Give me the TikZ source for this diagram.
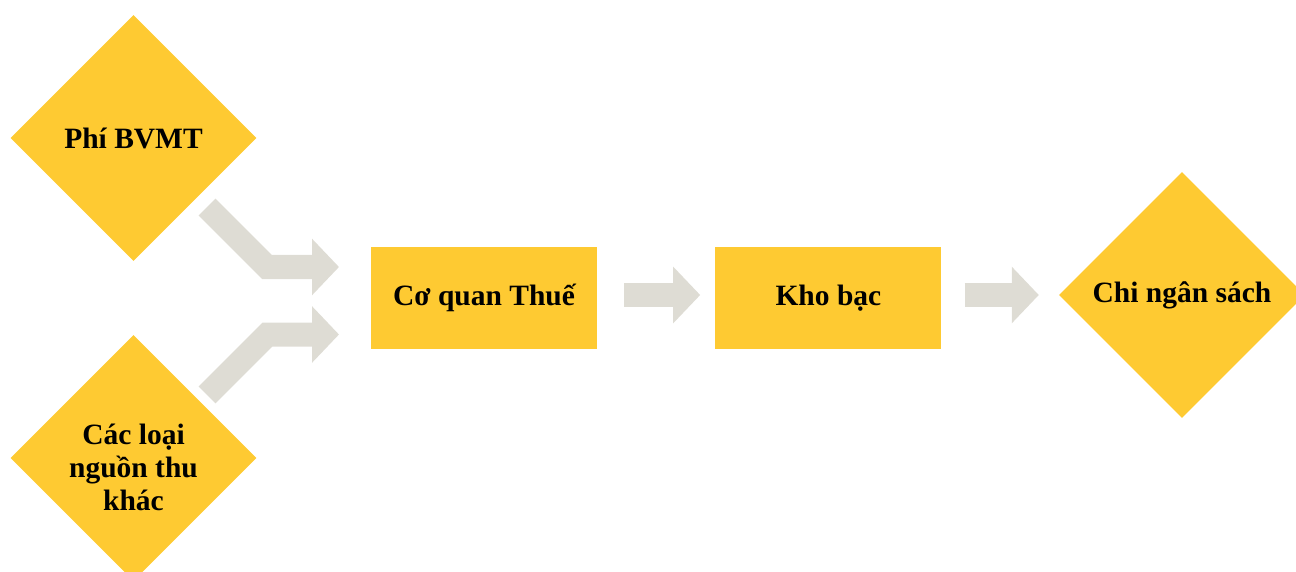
\documentclass[tikz,border=0pt]{standalone}
\usepackage{fontspec}
\setmainfont{Liberation Serif}
\usetikzlibrary{shapes.geometric}
\usetikzlibrary{positioning}
\usetikzlibrary{arrows.meta}
\definecolor{gold}{RGB}{254,202,50}
\definecolor{ash}{RGB}{222,220,212}
\tikzset{x=1pt, y=-1pt,
    every node/.style={
        font=\fontsize{29.5}{33}\selectfont\bfseries,
        align=center,
        inner sep=0pt},
    gem/.style={
        diamond,
        aspect=1,
        fill=gold,
        minimum width=246pt,
        minimum height=246pt},
    box/.style={
        rectangle,
        fill=gold,
        minimum width=226pt,
        minimum height=102pt},
    flow/.style={
        draw=ash,
        line width=24pt,
        line join=miter,
        -{Triangle[length=27pt,width=55pt]}}}

\begin{document}
\begin{tikzpicture}
        \useasboundingbox (0,0) rectangle (1296,572);
        \clip (0,0) rectangle (1296,572);

        \node[gem] (phi) at (133.5,138) {Phí BVMT};
        \node[gem] (other) at (133.5,458) {\raisebox{-19pt}[0pt][0pt]{\begin{tabular}{@{}c@{}}Các loại\\nguồn thu\\khác\end{tabular}}};
        \node[box] (thue) at (484,298) {Cơ quan Thuế};
        \node[box,right=118pt of thue] (khobac) {Kho bạc};
        \node[gem] (chi) at (1182,295) {Chi ngân sách};

        % bent arrows into the tax office
        \coordinate (phi out) at (207,207);
        \coordinate (phi bend) at (267,267);
        \coordinate (phi in) at (339,267);
        \coordinate (other out) at (207,395);
        \coordinate (other bend) at (267.5,334.5);
        \coordinate (other in) at (339,334.5);

        \draw[flow] (phi out) -- (phi bend) -- (phi in);
        \draw[flow] (other out) -- (other bend) -- (other in);
        \draw[flow,shorten <=27pt,shorten >=15pt] ([yshift=3pt]thue.east) -- ([yshift=3pt]khobac.west);
        \draw[flow,shorten <=23pt,shorten >=20pt] ([yshift=3pt]khobac.east) -- (chi.west);
    \end{tikzpicture}
\end{document}
